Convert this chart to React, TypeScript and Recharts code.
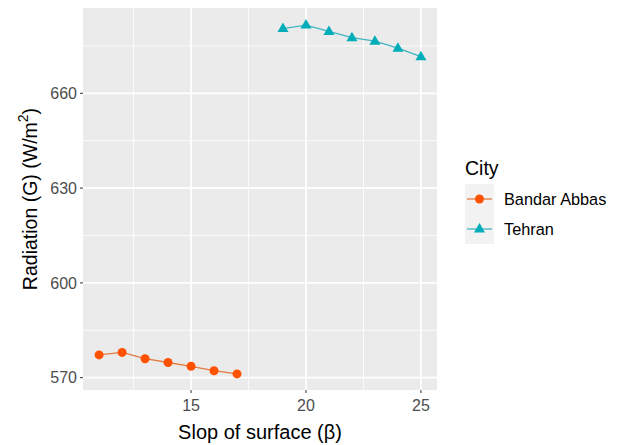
import {
  CartesianGrid,
  Label,
  Line,
  LineChart,
  ReferenceLine,
  XAxis,
  YAxis,
} from "recharts";

const bandarSlope = [11, 12, 13, 14, 15, 16, 17];
const bandarRad = [577.2, 578.0, 576.0, 574.8, 573.6, 572.2, 571.2];
const tehranSlope = [19, 20, 21, 22, 23, 24, 25];
const tehranRad = [680.5, 681.6, 679.6, 677.6, 676.5, 674.3, 671.6];

const xTicks = [15, 20, 25];
const yTicks = [570, 600, 630, 660];
const xMinor = [12.5, 17.5, 22.5];
const yMinor = [585, 615, 645, 675];

const data = [
  ...bandarSlope.map((s, i) => ({ slope: s, bandar: bandarRad[i] })),
  ...tehranSlope.map((s, i) => ({ slope: s, tehran: tehranRad[i] })),
];

const ORANGE = "#FF5200";
const ORANGE_LINE = "#E27A3F";
const TEAL = "#00ADB9";
const TEAL_LINE = "#3FB6C0";
const FONT = "'Liberation Sans', Arial, sans-serif";

const Triangle = (props: any) => {
  const { cx, cy, value } = props;
  if (cx == null || cy == null || value == null) return null;
  return (
    <polygon
      points={`${cx},${cy - 6} ${cx - 5.5},${cy + 3.5} ${cx + 5.5},${cy + 3.5}`}
      fill={TEAL}
    />
  );
};

const Circle = (props: any) => {
  const { cx, cy, value } = props;
  if (cx == null || cy == null || value == null) return null;
  return <circle cx={cx} cy={cy} r={4.5} fill={ORANGE} />;
};

const YTitle = (props: any) => {
  const vb = props.viewBox;
  const cy = vb.y + vb.height / 2;
  return (
    <text
      x={30}
      y={cy}
      transform={`rotate(-90, 30, ${cy})`}
      textAnchor="middle"
      dominantBaseline="central"
      fontSize={19.5}
      fill="#000"
      fontFamily={FONT}
    >
      Radiation (G) (W/m
      <tspan dy={-7} fontSize={14}>
        2
      </tspan>
      <tspan dy={7}>)</tspan>
    </text>
  );
};

const legendKeys = [
  { name: "Bandar Abbas", line: ORANGE_LINE, pt: ORANGE, tri: false },
  { name: "Tehran", line: TEAL_LINE, pt: TEAL, tri: true },
];

const CityLegend = () => (
  <div
    style={{
      position: "absolute",
      left: 465,
      top: 156,
      fontFamily: FONT,
      color: "#000",
    }}
  >
    <div style={{ fontSize: 19.5, lineHeight: "24px", marginBottom: 4 }}>City</div>
    {legendKeys.map((k) => (
      <div key={k.name} style={{ display: "flex", alignItems: "center", height: 30 }}>
        <svg width={29} height={30} style={{ background: "#F2F2F2", display: "block" }}>
          <line x1={2} x2={27} y1={15} y2={15} stroke={k.line} strokeWidth={1.3} />
          {k.tri ? (
            <polygon points="14.5,9 9,18.5 20,18.5" fill={k.pt} />
          ) : (
            <circle cx={14.5} cy={15} r={4.5} fill={k.pt} />
          )}
        </svg>
        <span style={{ fontSize: 16.3, marginLeft: 10 }}>{k.name}</span>
      </div>
    ))}
  </div>
);

export default function App() {
  return (
    <div style={{ position: "absolute", left: 0, top: 0, width: 622, height: 445, background: "#fff" }}>
      <LineChart
        width={622}
        height={445}
        data={data}
        margin={{ top: 8, right: 185, bottom: 0, left: 0 }}
      >
        <CartesianGrid fill="#EBEBEB" horizontal={false} vertical={false} />
        {xMinor.map((v) => (
          <ReferenceLine key={"xm" + v} x={v} stroke="#FFFFFF" strokeWidth={0.8} />
        ))}
        {yMinor.map((v) => (
          <ReferenceLine key={"ym" + v} y={v} stroke="#FFFFFF" strokeWidth={0.8} />
        ))}
        {xTicks.map((v) => (
          <ReferenceLine key={"x" + v} x={v} stroke="#FFFFFF" strokeWidth={1.7} />
        ))}
        {yTicks.map((v) => (
          <ReferenceLine key={"y" + v} y={v} stroke="#FFFFFF" strokeWidth={1.7} />
        ))}
        <XAxis
          type="number"
          dataKey="slope"
          domain={[10.3, 25.7]}
          ticks={xTicks}
          allowDataOverflow
          height={55}
          axisLine={false}
          tickSize={3}
          tickLine={{ stroke: "#333333" }}
          tick={{ fill: "#4D4D4D", fontSize: 16, fontFamily: FONT }}
          tickMargin={7}
        >
          <Label
            value="Slop of surface (β)"
            position="insideBottom"
            offset={6}
            style={{ fontSize: 20, fill: "#000", fontFamily: FONT }}
          />
        </XAxis>
        <YAxis
          type="number"
          domain={[566.1, 687]}
          ticks={yTicks}
          allowDataOverflow
          width={83}
          axisLine={false}
          tickSize={3}
          tickLine={{ stroke: "#333333" }}
          tick={{ fill: "#4D4D4D", fontSize: 16, fontFamily: FONT }}
          tickMargin={3}
        >
          <Label content={<YTitle />} />
        </YAxis>
        <Line
          dataKey="bandar"
          name="Bandar Abbas"
          stroke={ORANGE_LINE}
          strokeWidth={1.3}
          dot={<Circle />}
          activeDot={false}
          isAnimationActive={false}
        />
        <Line
          dataKey="tehran"
          name="Tehran"
          stroke={TEAL_LINE}
          strokeWidth={1.3}
          dot={<Triangle />}
          activeDot={false}
          isAnimationActive={false}
        />
      </LineChart>
      <CityLegend />
    </div>
  );
}
